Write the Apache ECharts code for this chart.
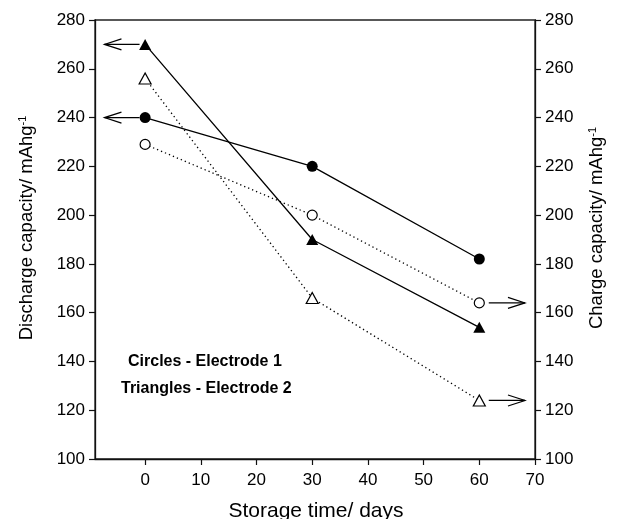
<!DOCTYPE html>
<html><head><meta charset="utf-8">
<script src="https://cdn.jsdelivr.net/npm/echarts@6/dist/echarts.min.js"></script>
<style>html,body{margin:0;padding:0;background:#fff}#c{width:618px;height:519px}</style>
</head><body><div id="c"></div>
<script>
// ---- data ----
const days = [0, 30, 60];
const e1Discharge = [240, 220, 182];   // filled circles
const e1Charge = [229, 200, 164];      // open circles
const e2Discharge = [270, 190, 154];   // filled triangles
const e2Charge = [256, 166, 124];      // open triangles
const xTicks = [0, 10, 20, 30, 40, 50, 60, 70];
const xMin = -9, xMax = 70;
const yMin = 100, yMax = 280, yStep = 20;
// arrows: [fromX, toX, y]
const arrows = [[-1.0, -7.3, 270], [-1.0, -7.3, 240], [61.7, 68.2, 164], [61.7, 68.2, 124]];
const noteLines = ['Circles - Electrode 1', 'Triangles - Electrode 2'];
const xTitle = 'Storage time/ days';
const leftTitle = 'Discharge capacity/ mAhg';
const rightTitle = 'Charge capacity/ mAhg';

const FONT = '"Liberation Sans", Arial, sans-serif';
const pts = vals => days.map((d, i) => [d, vals[i]]);
const solid = { color: '#000', width: 1.3, type: 'solid' };
const dotted = { color: '#000', width: 1.3, type: [1.3, 3] };

const yAxisBase = {
  type: 'value', min: yMin, max: yMax, interval: yStep,
  axisLine: { show: true, onZero: false, lineStyle: { color: '#111', width: 1.3 } },
  axisTick: { show: true, inside: false, length: 6, lineStyle: { color: '#111', width: 1.2 } },
  axisLabel: { color: '#000', fontSize: 17, fontFamily: FONT, margin: 10 },
  splitLine: { show: false }
};

const chart = echarts.init(document.getElementById('c'), null, { renderer: 'canvas' });
chart.setOption({
  animation: false,
  backgroundColor: '#fff',
  grid: { left: 95, right: 83, top: 20, bottom: 60, show: true, borderColor: '#222', borderWidth: 1.3, backgroundColor: 'transparent' },
  xAxis: {
    type: 'value', min: xMin, max: xMax,
    axisLine: { show: true, onZero: false, lineStyle: { color: '#111', width: 1.3 } },
    axisTick: { show: true, inside: false, length: 6, customValues: xTicks, lineStyle: { color: '#111', width: 1.2 } },
    axisLabel: { color: '#000', fontSize: 17, fontFamily: FONT, margin: 13, customValues: xTicks },
    splitLine: { show: false }
  },
  yAxis: [
    Object.assign({}, yAxisBase, { position: 'left' }),
    Object.assign({}, yAxisBase, { position: 'right' })
  ],
  series: [
    { type: 'line', data: pts(e1Charge), symbol: 'circle', symbolSize: 10,
      itemStyle: { color: '#fff', borderColor: '#000', borderWidth: 1.2 }, lineStyle: dotted, z: 3 },
    { type: 'line', data: pts(e2Charge), symbol: 'triangle', symbolSize: [12, 11],
      itemStyle: { color: '#fff', borderColor: '#000', borderWidth: 1.2 }, lineStyle: dotted, z: 3 },
    { type: 'line', data: pts(e1Discharge), symbol: 'circle', symbolSize: 11,
      itemStyle: { color: '#000' }, lineStyle: solid, z: 4 },
    { type: 'line', data: pts(e2Discharge), symbol: 'triangle', symbolSize: [12, 11],
      itemStyle: { color: '#000' }, lineStyle: solid, z: 4 },
    { type: 'custom', data: arrows, encode: { x: [0, 1], y: 2 }, silent: true, z: 5,
      renderItem: (params, api) => {
        const p0 = api.coord([api.value(0), api.value(2)]);
        const p1 = api.coord([api.value(1), api.value(2)]);
        const d = p1[0] > p0[0] ? 1 : -1;
        return { type: 'group', children: [
          { type: 'line', shape: { x1: p0[0], y1: p0[1], x2: p1[0], y2: p1[1] }, style: { stroke: '#000', lineWidth: 1.2 } },
          { type: 'polyline', shape: { points: [[p1[0] - d * 17, p1[1] - 5.5], [p1[0], p1[1]], [p1[0] - d * 17, p1[1] + 5.5]] },
            style: { stroke: '#000', fill: 'none', lineWidth: 1.2 } }
        ] };
      } }
  ],
  graphic: [
    { type: 'text', left: 128, top: 354, style: { text: noteLines[0], font: 'bold 16px ' + FONT, fill: '#000' } },
    { type: 'text', left: 121, top: 381, style: { text: noteLines[1], font: 'bold 16px ' + FONT, fill: '#000' } },
    { type: 'text', x: 316, y: 511, style: { text: xTitle, fontSize: 21, fontFamily: FONT, fill: '#000', align: 'center', verticalAlign: 'middle' } },
    { type: 'text', x: 27, y: 228, rotation: Math.PI / 2,
      style: { text: leftTitle + '{s|-1}', fontSize: 18.5, fontFamily: FONT, fill: '#000', align: 'center', verticalAlign: 'middle',
        rich: { s: { fontSize: 11, fontFamily: FONT, fill: '#000', verticalAlign: 'top', padding: [0, 0, 8, 0] } } } },
    { type: 'text', x: 597, y: 228, rotation: Math.PI / 2,
      style: { text: rightTitle + '{s|-1}', fontSize: 18.5, fontFamily: FONT, fill: '#000', align: 'center', verticalAlign: 'middle',
        rich: { s: { fontSize: 11, fontFamily: FONT, fill: '#000', verticalAlign: 'top', padding: [0, 0, 8, 0] } } } }
  ]
});
</script>
</body></html>
